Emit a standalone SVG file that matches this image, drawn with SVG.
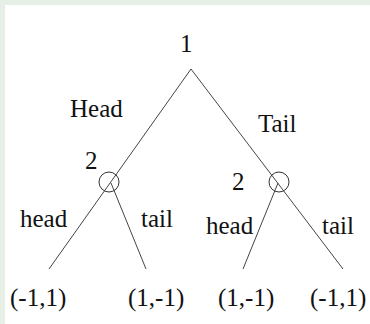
<svg xmlns="http://www.w3.org/2000/svg" width="370" height="324" viewBox="0 0 370 324">
<style>
text{font-family:"Liberation Serif","Times New Roman",serif;font-size:25px;fill:#111}
.e{stroke:#444;stroke-width:1;fill:none}
.n{stroke:#333;stroke-width:1;fill:none}
</style>
<rect x="0" y="0" width="370" height="324" fill="#e6efe6"/>
<rect x="5" y="5" width="365" height="319" fill="#ffffff"/>
<g id="connectors">
<line class="e" x1="191" y1="69" x2="49" y2="269"/>
<line class="e" x1="191" y1="69" x2="343" y2="269"/>
<line class="e" x1="111" y1="183" x2="146" y2="269"/>
<line class="e" x1="278" y1="183" x2="243" y2="269"/>
</g>
<g id="root"><text x="180" y="52">1</text></g>
<g id="n2left"><circle class="n" cx="109" cy="182" r="10"/><text x="85" y="169">2</text></g>
<g id="n2right"><circle class="n" cx="279" cy="182" r="10"/><text x="232" y="190">2</text></g>
<g id="labels">
<text x="70" y="117">Head</text>
<text x="258" y="132">Tail</text>
<text x="20" y="227">head</text>
<text x="141" y="227">tail</text>
<text x="206" y="234">head</text>
<text x="322" y="234">tail</text>
</g>
<g id="leaf1"><text x="10" y="306">(-1,1)</text></g>
<g id="leaf2"><text x="128" y="306">(1,-1)</text></g>
<g id="leaf3"><text x="218" y="306">(1,-1)</text></g>
<g id="leaf4"><text x="310" y="306">(-1,1)</text></g>
</svg>
